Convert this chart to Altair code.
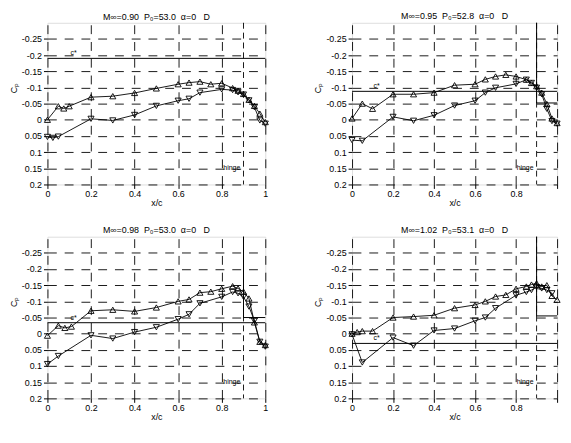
import altair as alt
import pandas as pd

NB = "\u00a0"
titles = [
    f"M∞=0.90{NB*2}P₀=53.0{NB*2}α=0{NB*3}D",
    f"M∞=0.95{NB*2}P₀=52.8{NB*2}α=0{NB*3}D",
    f"M∞=0.98{NB*2}P₀=53.0{NB*2}α=0{NB*3}D",
    f"M∞=1.02{NB*2}P₀=53.1{NB*2}α=0{NB*3}D",
]

# upper surface (triangle up markers)
xu1 = [0, 0.05, 0.075, 0.1, 0.2, 0.3, 0.4, 0.5, 0.6, 0.65, 0.7, 0.75, 0.8, 0.85, 0.875, 0.9, 0.925, 0.95, 0.975, 1.0]
yu1 = [0.0, -0.042, -0.035, -0.042, -0.07, -0.073, -0.083, -0.097, -0.11, -0.115, -0.118, -0.11, -0.113, -0.098, -0.09, -0.08, -0.062, -0.043, -0.019, 0.007]
xl1 = [0, 0.025, 0.05, 0.2, 0.3, 0.4, 0.5, 0.6, 0.65, 0.7, 0.8, 0.85, 0.875, 0.9, 0.925, 0.95, 0.975, 1.0]
yl1 = [0.053, 0.056, 0.052, -0.003, 0.002, -0.015, -0.043, -0.059, -0.065, -0.084, -0.094, -0.092, -0.085, -0.078, -0.06, -0.039, 0.002, 0.012]

xu2 = [0, 0.05, 0.1, 0.2, 0.3, 0.4, 0.5, 0.6, 0.65, 0.7, 0.75, 0.8, 0.85, 0.875, 0.9, 0.925, 0.95, 0.975, 1.0]
yu2 = [-0.004, -0.05, -0.034, -0.079, -0.079, -0.084, -0.107, -0.11, -0.125, -0.134, -0.139, -0.134, -0.124, -0.114, -0.104, -0.084, -0.049, -0.004, 0.01]
xl2 = [0, 0.05, 0.2, 0.3, 0.4, 0.5, 0.6, 0.65, 0.7, 0.8, 0.85, 0.875, 0.9, 0.925, 0.95, 0.975, 1.0]
yl2 = [0.063, 0.065, -0.009, 0.003, -0.014, -0.044, -0.059, -0.084, -0.099, -0.111, -0.124, -0.114, -0.099, -0.079, -0.034, 0.004, 0.012]

xu3 = [0, 0.05, 0.08, 0.11, 0.2, 0.3, 0.4, 0.5, 0.6, 0.65, 0.7, 0.75, 0.8, 0.85, 0.875, 0.9, 0.925, 0.95, 0.975, 1.0]
yu3 = [0.006, -0.025, -0.018, -0.022, -0.071, -0.074, -0.069, -0.081, -0.1, -0.106, -0.127, -0.13, -0.139, -0.147, -0.14, -0.13, -0.109, -0.035, 0.025, 0.035]
xl3 = [0, 0.05, 0.2, 0.3, 0.4, 0.5, 0.6, 0.65, 0.7, 0.8, 0.85, 0.875, 0.9, 0.925, 0.95, 0.975, 1.0]
yl3 = [0.094, 0.069, 0.005, 0.015, -0.005, -0.02, -0.045, -0.06, -0.094, -0.114, -0.129, -0.125, -0.114, -0.084, -0.04, 0.025, 0.04]

xu4 = [0, 0.025, 0.05, 0.1, 0.2, 0.3, 0.4, 0.5, 0.6, 0.65, 0.7, 0.75, 0.8, 0.85, 0.875, 0.9, 0.925, 0.95, 0.975, 1.0]
yu4 = [0.0, -0.005, -0.008, -0.008, -0.05, -0.053, -0.057, -0.079, -0.089, -0.1, -0.115, -0.12, -0.139, -0.146, -0.152, -0.156, -0.146, -0.15, -0.117, -0.105]
xl4 = [0, 0.05, 0.2, 0.3, 0.4, 0.5, 0.6, 0.65, 0.7, 0.8, 0.85, 0.875, 0.9, 0.925, 0.95, 0.975]
yl4 = [0.002, 0.089, 0.012, 0.037, -0.01, -0.016, -0.04, -0.05, -0.079, -0.119, -0.129, -0.135, -0.144, -0.14, -0.135, -0.125]

cp_star = [-0.19, -0.088, -0.034, 0.03]
hinge_x = 0.9
step_y = [None, -0.052, -0.05, -0.055]

x_ticks = [0, 0.2, 0.4, 0.6, 0.8, 1]
y_ticks = [-0.25, -0.2, -0.15, -0.1, -0.05, 0, 0.05, 0.1, 0.15, 0.2]
y_labels = ["-0.25", "-0.2", "-0.15", "-0.1", "-0.05", "0", "0.05", "0.1", "0.15", "0.2"]

FONT = "Liberation Sans"

y_label_expr = " : ".join(
    f"abs(datum.value - ({v})) < 0.001 ? '{s}'" for v, s in zip(y_ticks, y_labels)
) + " : ''"


def panel(i, xu, yu, xl, yl, w, h, show_last=True):
    xs = alt.Scale(domain=[0, 1], nice=False, zero=False)
    ys = alt.Scale(domain=[-0.3, 0.2], reverse=True, nice=False, zero=False)
    xlab = "datum.value + ''" if show_last else "datum.value == 1 ? '' : datum.value + ''"
    common = dict(grid=True, gridDash=[9, 8], gridColor="black", gridOpacity=1, gridWidth=0.9,
                  domain=False, tickSize=4, tickColor="black", labelFontSize=9, labelFont=FONT,
                  labelColor="black", titleFont=FONT, titleFontSize=9, titleFontWeight="normal",
                  titleColor="black", labelOverlap=False, labelBound=False, labelSeparation=0)
    xax = alt.Axis(values=x_ticks, title="x/c", labelExpr=xlab, titlePadding=0, labelPadding=1,
                   labelFlush=False, **common)
    yax = alt.Axis(values=y_ticks, title="Cₚ", labelExpr=y_label_expr, titlePadding=3, labelPadding=2,
                   titleY=h * 0.4, **common)

    X = alt.X("x:Q", scale=xs, axis=xax)
    Y = alt.Y("y:Q", scale=ys, axis=yax)

    up = pd.DataFrame({"x": xu, "y": yu})
    lo = pd.DataFrame({"x": xl, "y": yl})

    line_u = alt.Chart(up).mark_line(color="black", strokeWidth=0.9).encode(x=X, y=Y, order="x:Q")
    pts_u = alt.Chart(up).mark_point(shape="triangle-up", filled=False, color="black", size=38,
                                     strokeWidth=0.9, opacity=1).encode(x=X, y=Y)
    line_l = alt.Chart(lo).mark_line(color="black", strokeWidth=0.9).encode(x=X, y=Y, order="x:Q")
    pts_l = alt.Chart(lo).mark_point(shape="triangle-down", filled=False, color="black", size=38,
                                     strokeWidth=0.9, opacity=1).encode(x=X, y=Y)

    cp = alt.Chart(pd.DataFrame({"y": [cp_star[i]]})).mark_rule(color="black", strokeWidth=1).encode(y=Y)
    cpt = alt.Chart(pd.DataFrame({"x": [0.12], "y": [cp_star[i] - 0.006], "t": ["c*"]})).mark_text(
        font=FONT, fontSize=7, color="black", baseline="bottom").encode(x=X, y=Y, text="t:N")
    hin = alt.Chart(pd.DataFrame({"x": [hinge_x]})).mark_rule(color="black", strokeWidth=0.9,
                                                               strokeDash=[6, 4]).encode(x=X)
    hint = alt.Chart(pd.DataFrame({"x": [0.885], "y": [0.15], "t": ["hinge"]})).mark_text(
        font=FONT, fontSize=7, color="black", align="right", baseline="middle").encode(x=X, y=Y, text="t:N")

    layers = [line_u, line_l, pts_u, pts_l, cp, cpt, hin, hint]
    if step_y[i] is not None:
        st = pd.DataFrame({"x": [hinge_x, hinge_x, 1.0], "y": [-0.3, step_y[i], step_y[i]], "o": [0, 1, 2]})
        layers.append(alt.Chart(st).mark_line(color="black", strokeWidth=1).encode(x=X, y=Y, order="o:Q"))

    return alt.layer(*layers).properties(
        width=w, height=h,
        title=alt.TitleParams(titles[i], font=FONT, fontSize=9, fontWeight="normal", color="black", offset=0),
    )


p1 = panel(0, xu1, yu1, xl1, yl1, 221, 164)
p2 = panel(1, xu2, yu2, xl2, yl2, 208, 164, show_last=False)
p3 = panel(2, xu3, yu3, xl3, yl3, 221, 164)
p4 = panel(3, xu4, yu4, xl4, yl4, 208, 164, show_last=False)

top = alt.hconcat(p1, p2, spacing=42)
bot = alt.hconcat(p3, p4, spacing=42)
chart = alt.vconcat(top, bot, spacing=17).properties(
    padding={"left": 0, "top": 0, "right": 0, "bottom": 0}
).configure_view(stroke="black", strokeWidth=1).configure(background="white")

chart.save("out.html", embed_options={"renderer": "svg", "actions": False})
